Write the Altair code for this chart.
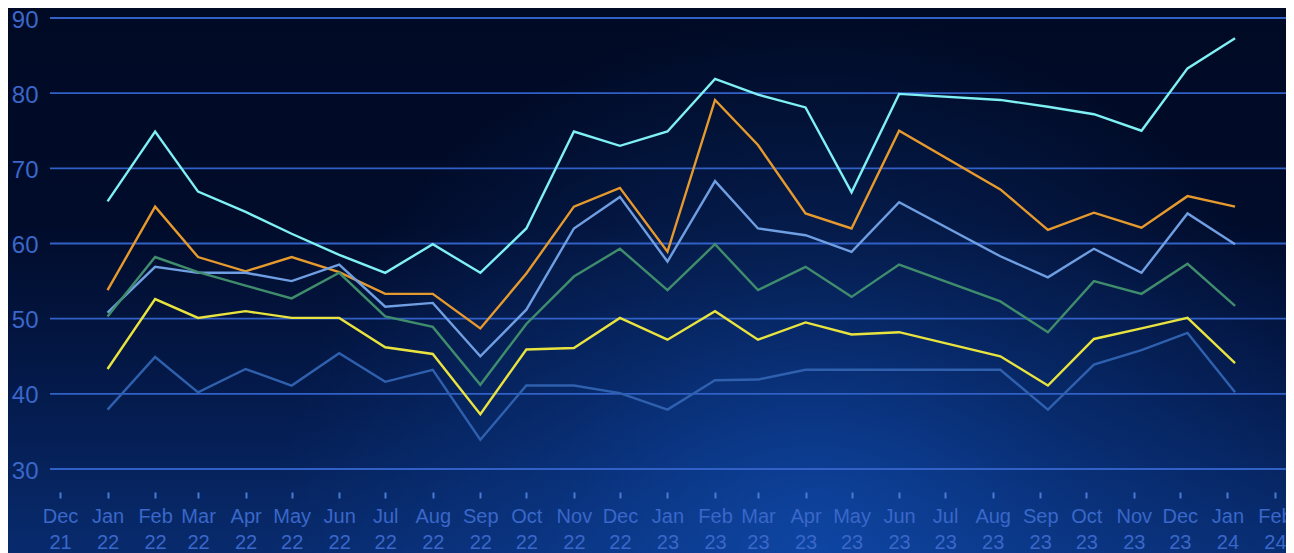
import altair as alt
import pandas as pd

# ---- data ----
dates = [
    "2022-01-01T00:00", "2022-02-01T00:00", "2022-03-01T00:00", "2022-04-01T00:00",
    "2022-05-01T00:00", "2022-06-01T00:00", "2022-07-01T00:00", "2022-08-01T00:00",
    "2022-09-01T00:00", "2022-10-01T00:00", "2022-11-01T00:00", "2022-12-01T00:00",
    "2023-01-01T00:00", "2023-02-01T00:00", "2023-03-01T00:00", "2023-04-01T00:00",
    "2023-05-01T00:00", "2023-06-01T00:00", "2023-08-06T00:00", "2023-09-06T00:00",
    "2023-10-06T00:00", "2023-11-06T00:00", "2023-12-06T00:00", "2024-01-06T00:00",
]
series_names = ["S1", "S2", "S3", "S4", "S5", "S6"]
s1_cyan = [65.6, 74.9, 66.9, 64.2, 61.3, 58.5, 56.1, 59.9, 56.1, 62.0, 74.9, 73.0,
           74.9, 81.9, 79.8, 78.1, 66.8, 79.9, 79.1, 78.2, 77.2, 75.0, 83.3, 87.3]
s2_orange = [53.8, 64.9, 58.2, 56.3, 58.2, 56.2, 53.3, 53.3, 48.7, 56.0, 64.9, 67.4,
             58.9, 79.1, 73.1, 64.0, 62.0, 75.0, 67.2, 61.8, 64.1, 62.1, 66.3, 64.9]
s3_lightblue = [50.8, 56.9, 56.1, 56.1, 55.0, 57.2, 51.6, 52.1, 45.0, 51.2, 62.0, 66.2,
                57.6, 68.3, 62.0, 61.1, 58.9, 65.5, 58.3, 55.5, 59.3, 56.1, 64.0, 59.9]
s4_green = [50.3, 58.2, 56.2, 54.4, 52.7, 56.1, 50.3, 48.9, 41.2, 49.3, 55.6, 59.3,
            53.8, 59.9, 53.8, 56.9, 52.9, 57.2, 52.3, 48.2, 55.0, 53.3, 57.3, 51.7]
s5_yellow = [43.3, 52.6, 50.1, 51.0, 50.1, 50.1, 46.2, 45.3, 37.3, 45.9, 46.1, 50.1,
             47.2, 51.0, 47.2, 49.5, 47.9, 48.2, 45.0, 41.1, 47.3, 48.7, 50.1, 44.1]
s6_darkblue = [37.9, 44.9, 40.2, 43.3, 41.1, 45.4, 41.6, 43.2, 33.9, 41.1, 41.1, 40.1,
               37.9, 41.8, 41.9, 43.2, 43.2, 43.2, 43.2, 37.9, 43.9, 45.8, 48.1, 40.2]
series_colors = ["#7ff0f4", "#e69a2e", "#6f9fe2", "#3f8d6c", "#e9e33f", "#2f60ad"]
y_ticks = [30, 40, 50, 60, 70, 80, 90]

all_series = [s1_cyan, s2_orange, s3_lightblue, s4_green, s5_yellow, s6_darkblue]
rows = []
for name, vals in zip(series_names, all_series):
    for d, v in zip(dates, vals):
        rows.append({"date": d, "value": v, "series": name})
df = pd.DataFrame(rows)
grid_df = pd.DataFrame({"v": y_ticks})

W, H = 1236, 451
PAD_L, PAD_T, PAD_B = 42, 10, 84

x_scale = alt.Scale(domain=[alt.DateTime(year=2021, month=11, date=24, hours=11, minutes=30),
                            alt.DateTime(year=2024, month=2, date=8, hours=5)])
y_scale = alt.Scale(domain=[30, 90], nice=False, zero=False)
y_axis = alt.Axis(values=y_ticks, grid=False, domain=False, ticks=False,
                  labelPadding=12, labelFontSize=24, labelColor="#3a67c9",
                  labelOffset=2, labelFont="Liberation Sans", zindex=1)

# background: vertical gradient + radial glow
bg_lin = alt.Chart(alt.Data(values=[{"k": 0}])).mark_rect(
    clip=False,
    color=alt.Gradient(
        gradient="linear", x1=0, x2=0, y1=0, y2=1,
        stops=[alt.GradientStop(color="#000a24", offset=0),
               alt.GradientStop(color="#010c2b", offset=0.4),
               alt.GradientStop(color="#041a4b", offset=0.7),
               alt.GradientStop(color="#082b6e", offset=1)])
).encode(x=alt.value(-PAD_L), x2=alt.value(W), y=alt.value(-PAD_T), y2=alt.value(H + PAD_B))

bg_rad = alt.Chart(alt.Data(values=[{"k": 0}])).mark_rect(
    clip=False,
    color=alt.Gradient(
        gradient="radial", x1=0.63, y1=0.71, r1=0, x2=0.63, y2=0.71, r2=0.42,
        stops=[alt.GradientStop(color="rgba(18,86,196,0.62)", offset=0),
               alt.GradientStop(color="rgba(18,86,196,0.25)", offset=0.5),
               alt.GradientStop(color="rgba(18,86,196,0)", offset=1)])
).encode(x=alt.value(-PAD_L), x2=alt.value(W), y=alt.value(-PAD_T), y2=alt.value(H + PAD_B))

grid = alt.Chart(grid_df).mark_rule(color="#3160c6", strokeWidth=1.8).encode(
    y=alt.Y("v:Q", scale=y_scale, axis=y_axis, title=None),
    x=alt.value(0), x2=alt.value(W),
)

lines = alt.Chart(df).mark_line(strokeWidth=2.4).encode(
    x=alt.X("date:T", scale=x_scale, title=None,
            axis=alt.Axis(tickCount=alt.TickCount(interval="month", step=1),
                          labelExpr="[timeFormat(datum.value, '%b'), timeFormat(datum.value, '%y')]",
                          grid=False, domain=False, offset=23, tickSize=6, tickWidth=2,
                          tickColor="#4a7bd2", labelPadding=8, labelFontSize=20,
                          labelLineHeight=26, labelColor="#3a67c9", labelOverlap=False,
                          labelFlush=False, labelFont="Liberation Sans", zindex=1)),
    y=alt.Y("value:Q", scale=y_scale, title=None, axis=y_axis),
    color=alt.Color("series:N", scale=alt.Scale(domain=series_names, range=series_colors),
                    legend=None),
    order=alt.Order("date:T"),
)

chart = alt.layer(bg_lin, bg_rad, grid, lines).properties(
    width=W, height=H,
    autosize=alt.AutoSizeParams(type="none"),
    padding={"left": PAD_L, "top": PAD_T, "right": 0, "bottom": PAD_B},
    background="#000a24",
).configure_view(stroke=None)

chart.save("out.html", embed_options={"renderer": "svg", "actions": False})
